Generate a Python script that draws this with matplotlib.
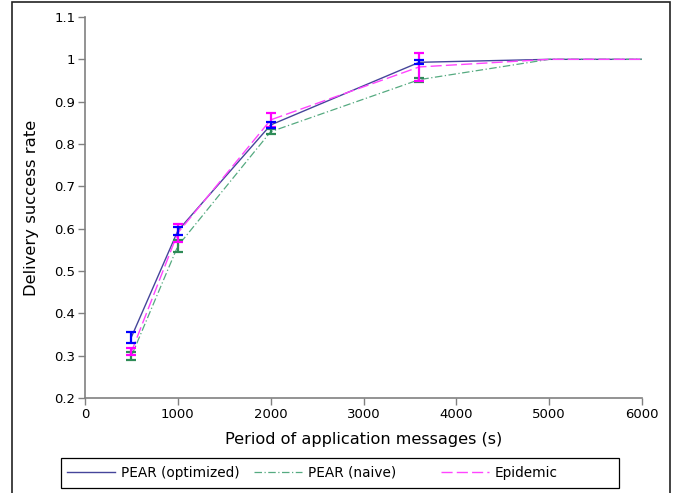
import matplotlib
matplotlib.use("Agg")
import matplotlib.pyplot as plt
from matplotlib.patches import Rectangle

periods = [500, 1000, 2000, 3600, 5000, 6000]
pear_opt = [0.344, 0.595, 0.845, 0.993, 1.0, 1.0]
pear_opt_err = [0.013, 0.010, 0.007, 0.005, 0.0, 0.0]
pear_naive = [0.299, 0.559, 0.829, 0.952, 1.0, 1.0]
pear_naive_err = [0.010, 0.014, 0.006, 0.005, 0.0, 0.0]
epidemic = [0.309, 0.590, 0.857, 0.982, 1.0, 1.0]
epidemic_err = [0.008, 0.022, 0.016, 0.032, 0.0, 0.0]

yticks = [0.2, 0.3, 0.4, 0.5, 0.6, 0.7, 0.8, 0.9, 1.0, 1.1]
ytick_labels = ["0.2", "0.3", "0.4", "0.5", "0.6", "0.7", "0.8", "0.9", "1", "1.1"]
xticks = [0, 1000, 2000, 3000, 4000, 5000, 6000]

W, H = 682, 493
fig = plt.figure(figsize=(W / 100, H / 100), dpi=100)
ax = fig.add_axes([85 / W, 1 - 398 / H, (642 - 85) / W, (398 - 17) / H])

# lines
h1, = ax.plot(periods, pear_opt, color="#45459a", lw=1.0, ls="-", label="PEAR (optimized)", zorder=3)
h2, = ax.plot(periods, pear_naive, color="#55aa80", lw=0.9, ls=(0, (6, 2, 1, 2)), label="PEAR (naive)", zorder=3)
h3, = ax.plot(periods, epidemic, color="#ff44ff", lw=1.0, ls=(0, (8, 3)), label="Epidemic", zorder=3)

# error bars
eb_kw = dict(fmt="none", capsize=3.5, elinewidth=1.6, capthick=1.6, zorder=4)
ax.errorbar(periods[:4], pear_naive[:4], yerr=pear_naive_err[:4], ecolor="#2e8b57", **eb_kw)
ax.errorbar(periods[:4], epidemic[:4], yerr=epidemic_err[:4], ecolor="#ff00ff", **eb_kw)
ax.errorbar(periods[:4], pear_opt[:4], yerr=pear_opt_err[:4], ecolor="#0000ff", **eb_kw)

ax.set_xlim(0, 6000)
ax.set_ylim(0.2, 1.1)
ax.set_xticks(xticks)
ax.set_yticks(yticks)
ax.set_yticklabels(ytick_labels)
ax.tick_params(direction="out", length=5, width=1, color="#808080", labelsize=9.5, pad=2)
for s in ["top", "right"]:
    ax.spines[s].set_visible(False)
for s in ["left", "bottom"]:
    ax.spines[s].set_color("#808080")
    ax.spines[s].set_linewidth(1.2)

ax.set_xlabel("Period of application messages (s)", fontsize=11.6, labelpad=8)
ax.set_ylabel("Delivery success rate", fontsize=11.8, labelpad=11)

# legend: three entries at evenly spaced column positions inside one frame
col_x = [67, 254, 441]
for h, x0 in zip([h1, h2, h3], col_x):
    fig.legend(handles=[h], loc="center left",
               bbox_to_anchor=(x0 / W, 1 - 473 / H), frameon=False,
               fontsize=9.8, handlelength=3.5, handletextpad=0.45,
               borderpad=0, borderaxespad=0)
fig.patches.append(Rectangle((61 / W, 1 - 488 / H), (619 - 61) / W, 30 / H,
                             transform=fig.transFigure, fill=False,
                             edgecolor="black", lw=0.9))

# figure border
fig.patches.append(Rectangle((12 / W, -0.01), (670 - 12) / W, 1 - 1.5 / H + 0.01,
                             transform=fig.transFigure, fill=False,
                             edgecolor="#222222", lw=1.2))

fig.savefig("out.png", dpi=100)
